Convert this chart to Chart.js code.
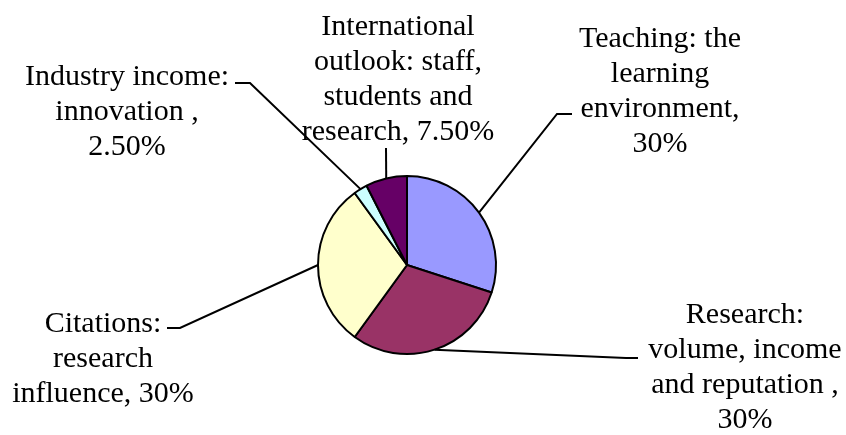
<!DOCTYPE html>
<html>
<head>
<meta charset="utf-8">
<script src="https://cdn.jsdelivr.net/npm/chart.js@4/dist/chart.umd.min.js"></script>
<style>
  html, body { margin: 0; padding: 0; background: #fff; }
  #wrap { width: 846px; height: 435px; }
</style>
</head>
<body>
<div id="wrap"><canvas id="pieChart"></canvas></div>
<script>
// data
var categories = [
  "Teaching: the learning environment",
  "Research: volume, income and reputation",
  "Citations: research influence",
  "Industry income: innovation",
  "International outlook: staff, students and research"
];
var shares = [30, 30, 30, 2.5, 7.5];
var shareText = ["30%", "30%", "30%", "2.50%", "7.50%"];
var labelLines = [
  ["Teaching: the", "learning", "environment,", shareText[0]],
  ["Research:", "volume, income", "and reputation ,", shareText[1]],
  ["Citations:", "research", "influence, " + shareText[2]],
  ["Industry income:", "innovation ,", shareText[3]],
  ["International", "outlook: staff,", "students and", "research, " + shareText[4]]
];
var sliceColors = ["#9999FF", "#993366", "#FFFFCC", "#CCFFFF", "#660066"];

// label placement: text centre x, first baseline y, leader bend and dash end
var labelLayout = [
  { x: 660, y: 47, bend: [557, 114], dash: [572, 114] },
  { x: 745, y: 323, bend: [626, 358], dash: [638, 358] },
  { x: 103, y: 332, bend: [180, 328], dash: [167, 328] },
  { x: 127, y: 85, bend: [250, 83], dash: [235, 83] },
  { x: 398, y: 35, bend: [386, 148], dash: null }
];

var calloutPlugin = {
  id: 'callouts',
  afterDraw: function (chart) {
    var ctx = chart.ctx;
    var arcs = chart.getDatasetMeta(0).data;
    ctx.save();
    ctx.strokeStyle = '#000';
    ctx.lineWidth = 2;
    arcs.forEach(function (arc, i) {
      var p = arc.getProps(['x', 'y', 'startAngle', 'endAngle', 'outerRadius'], true);
      var mid = (p.startAngle + p.endAngle) / 2;
      var sx = p.x + Math.cos(mid) * p.outerRadius;
      var sy = p.y + Math.sin(mid) * p.outerRadius;
      var lay = labelLayout[i];
      ctx.beginPath();
      ctx.moveTo(sx, sy);
      ctx.lineTo(lay.bend[0], lay.bend[1]);
      if (lay.dash) ctx.lineTo(lay.dash[0], lay.dash[1]);
      ctx.stroke();
    });
    ctx.fillStyle = '#000';
    ctx.font = '30px "Liberation Serif", "Times New Roman", serif';
    ctx.textAlign = 'center';
    ctx.textBaseline = 'alphabetic';
    labelLines.forEach(function (lines, i) {
      var lay = labelLayout[i];
      lines.forEach(function (t, j) {
        ctx.fillText(t, lay.x, lay.y + j * 35);
      });
    });
    ctx.restore();
  }
};

var pieChart = new Chart(document.querySelector('#pieChart'), {
  type: 'pie',
  data: {
    labels: categories,
    datasets: [{
      data: shares,
      backgroundColor: sliceColors,
      borderColor: '#000',
      borderWidth: 2
    }]
  },
  options: {
    responsive: true,
    maintainAspectRatio: false,
    animation: false,
    layout: { padding: { left: 317, right: 349, top: 175, bottom: 80 } },
    plugins: {
      legend: { display: false },
      tooltip: { enabled: false }
    }
  },
  plugins: [calloutPlugin]
});
</script>
</body>
</html>
